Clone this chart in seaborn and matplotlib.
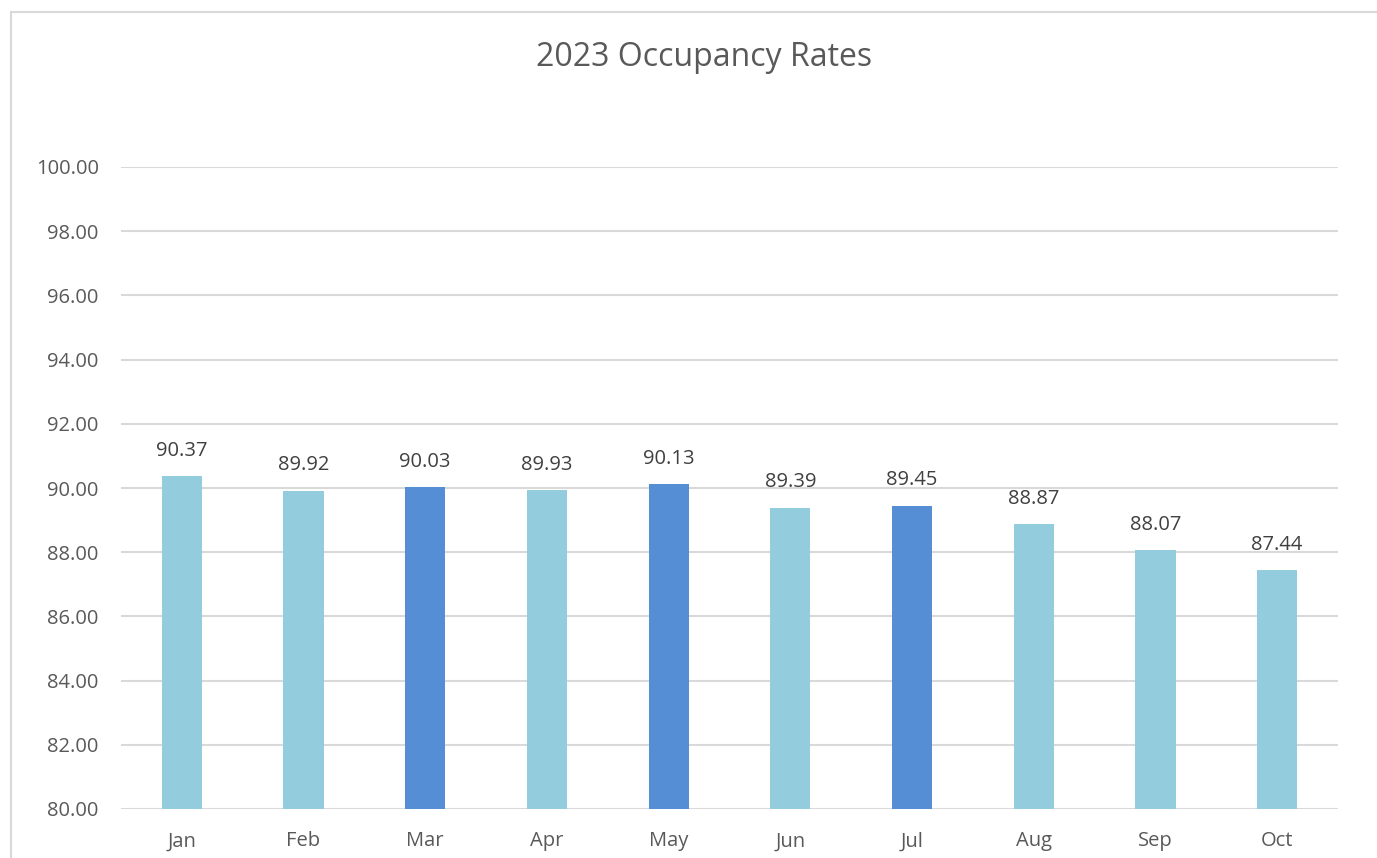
# 2023 Occupancy Rates - bar chart

import pandas as pd
import matplotlib.pyplot as plt
import seaborn as sns
from matplotlib.patches import Rectangle

# Data
months = ['Jan', 'Feb', 'Mar', 'Apr', 'May', 'Jun', 'Jul', 'Aug', 'Sep', 'Oct']
rates = [90.37, 89.92, 90.03, 89.93, 90.13, 89.39, 89.45, 88.87, 88.07, 87.44]
highlight = ['Mar', 'May', 'Jul']
y_ticks = [80, 82, 84, 86, 88, 90, 92, 94, 96, 98, 100]

light = '#93CDDD'
dark = '#558ED5'
colors = [dark if m in highlight else light for m in months]

df = pd.DataFrame({'Month': months, 'Rate': rates})

sns.set_style('white')
plt.rcParams['font.family'] = ['Open Sans', 'DejaVu Sans']

fig = plt.figure(figsize=(13.77, 8.58), dpi=100)
ax = fig.add_axes([121 / 1377, 1 - 809 / 858, (1338 - 121) / 1377, (809 - 167) / 858])

sns.barplot(data=df, x='Month', y='Rate', hue='Month', palette=colors,
            width=0.33, legend=False, ax=ax, saturation=1, linewidth=0)

ax.set_ylim(80, 100)
ax.set_yticks(y_ticks)
ax.set_yticklabels([f'{v:.2f}' for v in y_ticks])
ax.set_xlim(-0.5, len(months) - 0.5)
ax.grid(axis='y', color='#D9D9D9', linewidth=1.5)
ax.set_axisbelow(True)
for s in ax.spines.values():
    s.set_visible(False)
ax.set_xlabel('')
ax.set_ylabel('')
ax.tick_params(axis='both', length=0, labelsize=14.5, labelcolor='#595959')
ax.tick_params(axis='y', pad=16)
ax.tick_params(axis='x', pad=16)

for c in ax.containers:
    ax.bar_label(c, fmt='%.2f', padding=11, fontsize=14.5, color='#404040')

fig.text(0.511, 1 - 57 / 858, '2023 Occupancy Rates', ha='center', va='center',
         fontsize=23, color='#595959')

# outer chart frame
fig.patches.append(Rectangle((11 / 1377, -0.05), 1.1, 1 - 12 / 858 + 0.05,
                             transform=fig.transFigure, fill=False,
                             edgecolor='#D9D9D9', linewidth=1.5))

fig.savefig('out.png', dpi=100)
